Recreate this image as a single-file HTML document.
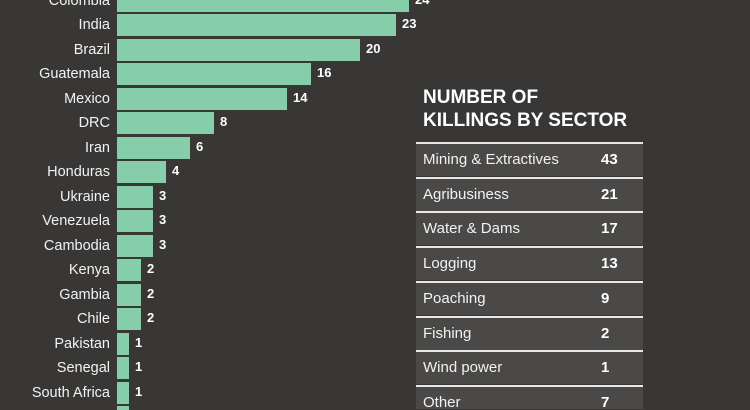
<!DOCTYPE html>
<html style="height:410px;overflow:hidden"><head><style>
body{margin:0;width:750px;height:410px;background:#383736;overflow:hidden;position:relative;font-family:"Liberation Sans",sans-serif;color:#fff}
.l{position:absolute;right:640px;font-size:14.5px;line-height:20px;white-space:nowrap;color:#f2f2f2}
.b{position:absolute;left:117px;height:22px;background:#86cdaa}
.v{position:absolute;font-size:13px;font-weight:bold;line-height:20px}
.h{position:absolute;left:423px;top:86px;font-size:19px;font-weight:bold;line-height:23px}
.r{position:absolute;left:416px;width:227px;height:32px;background:#4a4948;border-top:2px solid #e8e8e8}
.r span{position:absolute;left:7px;top:7px;font-size:15px;color:#f2f2f2}
.r b{position:absolute;left:185px;top:7px;font-size:15px}
</style></head><body>
<div id="c"></div>
<div class="h">NUMBER OF<br>KILLINGS BY SECTOR</div>
<div id="t"></div>
<script>
var d=[["Colombia",24],["India",23],["Brazil",20],["Guatemala",16],["Mexico",14],["DRC",8],["Iran",6],["Honduras",4],["Ukraine",3],["Venezuela",3],["Cambodia",3],["Kenya",2],["Gambia",2],["Chile",2],["Pakistan",1],["Senegal",1],["South Africa",1],["",1]];
var h="";d.forEach(function(e,i){var c=0.5+i*24.5;var w=Math.round(e[1]*12.15);
h+='<div class="l" style="top:'+(c-10)+'px">'+e[0]+'</div><div class="b" style="top:'+(c-11)+'px;width:'+w+'px;height:'+(i==17?11:22)+'px"></div>'+(e[0]?'<div class="v" style="left:'+(117+w+6)+'px;top:'+(c-11)+'px">'+e[1]+'</div>':'');});
document.getElementById("c").innerHTML=h;
var s=[["Mining &amp; Extractives",43],["Agribusiness",21],["Water &amp; Dams",17],["Logging",13],["Poaching",9],["Fishing",2],["Wind power",1],["Other",7]];
h="";s.forEach(function(e,i){h+='<div class="r" style="top:'+(142+i*34.7)+'px;'+(i==7?'height:22px':'')+'"><span>'+e[0]+'</span><b>'+e[1]+'</b></div>';});
document.getElementById("t").innerHTML=h;
</script>
</body></html>
